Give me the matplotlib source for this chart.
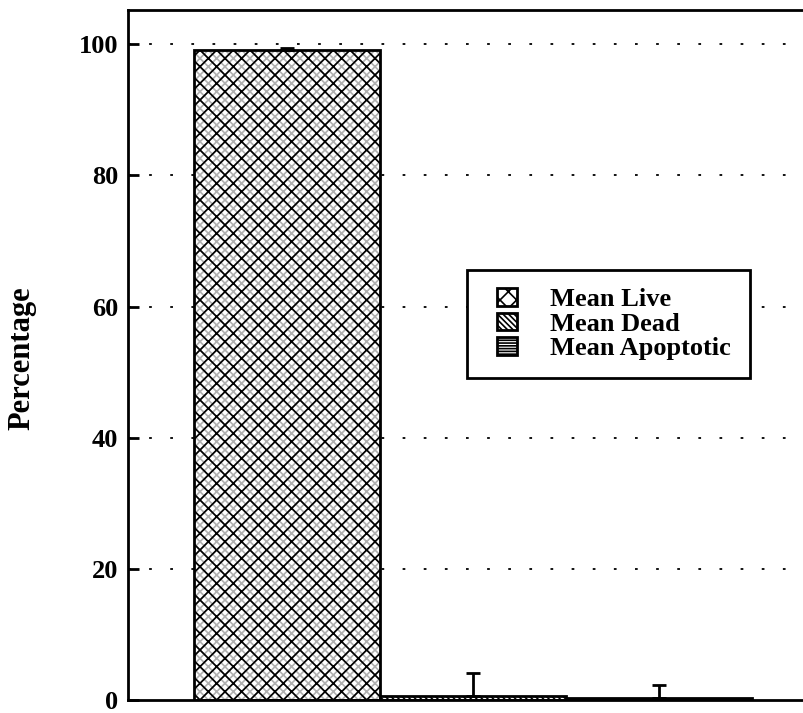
import matplotlib.pyplot as plt
from matplotlib.patches import Rectangle
import numpy as np

categories = ['Mean Live', 'Mean Dead', 'Mean Apoptotic']
means = [99.1, 0.7, 0.35]
errors = [0.3, 3.4, 1.9]
hatches = ['xx', '\\\\\\\\\\\\', '------']
under_hatches = ['xxxx', None, None]
y_ticks = [0, 20, 40, 60, 80, 100]

plt.rcParams['font.family'] = 'Liberation Serif'
plt.rcParams['font.weight'] = 'bold'
plt.rcParams['hatch.linewidth'] = 1.2

fig = plt.figure(figsize=(8.04, 7.13), dpi=100)
ax = fig.add_axes([0.159, 0.018, 0.841, 0.968])

x = np.arange(len(categories))
for i in range(len(categories)):
    if under_hatches[i]:
        # light grey halftone lines underneath the dark cross hatch
        ax.bar(x[i], means[i], width=1.0, color='white', edgecolor='#b0b0b0',
               linewidth=0, hatch=under_hatches[i], zorder=2)
    ax.bar(x[i], means[i], width=1.0, color='none', edgecolor='black',
           linewidth=2, hatch=hatches[i], label=categories[i], zorder=2.5)
    ax.errorbar(x[i], means[i], yerr=[[0], [errors[i]]], fmt='none',
                ecolor='black', elinewidth=2, capsize=5, capthick=2, zorder=3)

ax.set_xlim(-0.855, 2.78)
ax.set_ylim(0, 105.2)
ax.set_yticks(y_ticks)
ax.set_xticks([])
ax.tick_params(axis='y', direction='in', length=8, width=2, labelsize=19, pad=7)
for lbl in ax.get_yticklabels():
    lbl.set_fontweight('bold')

for yv in y_ticks[1:]:
    ax.axhline(yv, color='black', linestyle=(0, (1.5, 10.2)), linewidth=1.3, zorder=1)

ax.spines['right'].set_visible(False)
for s in ['left', 'top', 'bottom']:
    ax.spines[s].set_linewidth(2)

ax.set_ylabel('Percentage', fontsize=22, fontweight='bold')
ax.yaxis.set_label_coords(-0.1346, 0.496)

# legend frame drawn separately so its padding can match the original
ax.add_patch(Rectangle((0.5015, 0.4667), 0.4185, 0.1563, transform=ax.transAxes,
                       facecolor='white', edgecolor='black', linewidth=2, zorder=4))
leg = ax.legend(loc='upper left', bbox_to_anchor=(0.5459, 0.597), fontsize=19,
                frameon=False, handlelength=0.76, handleheight=0.65,
                handletextpad=1.25, borderpad=0, borderaxespad=0,
                labelspacing=0.05)
leg.set_zorder(5)
for t in leg.get_texts():
    t.set_fontweight('bold')

fig.savefig('out.png', dpi=100)
